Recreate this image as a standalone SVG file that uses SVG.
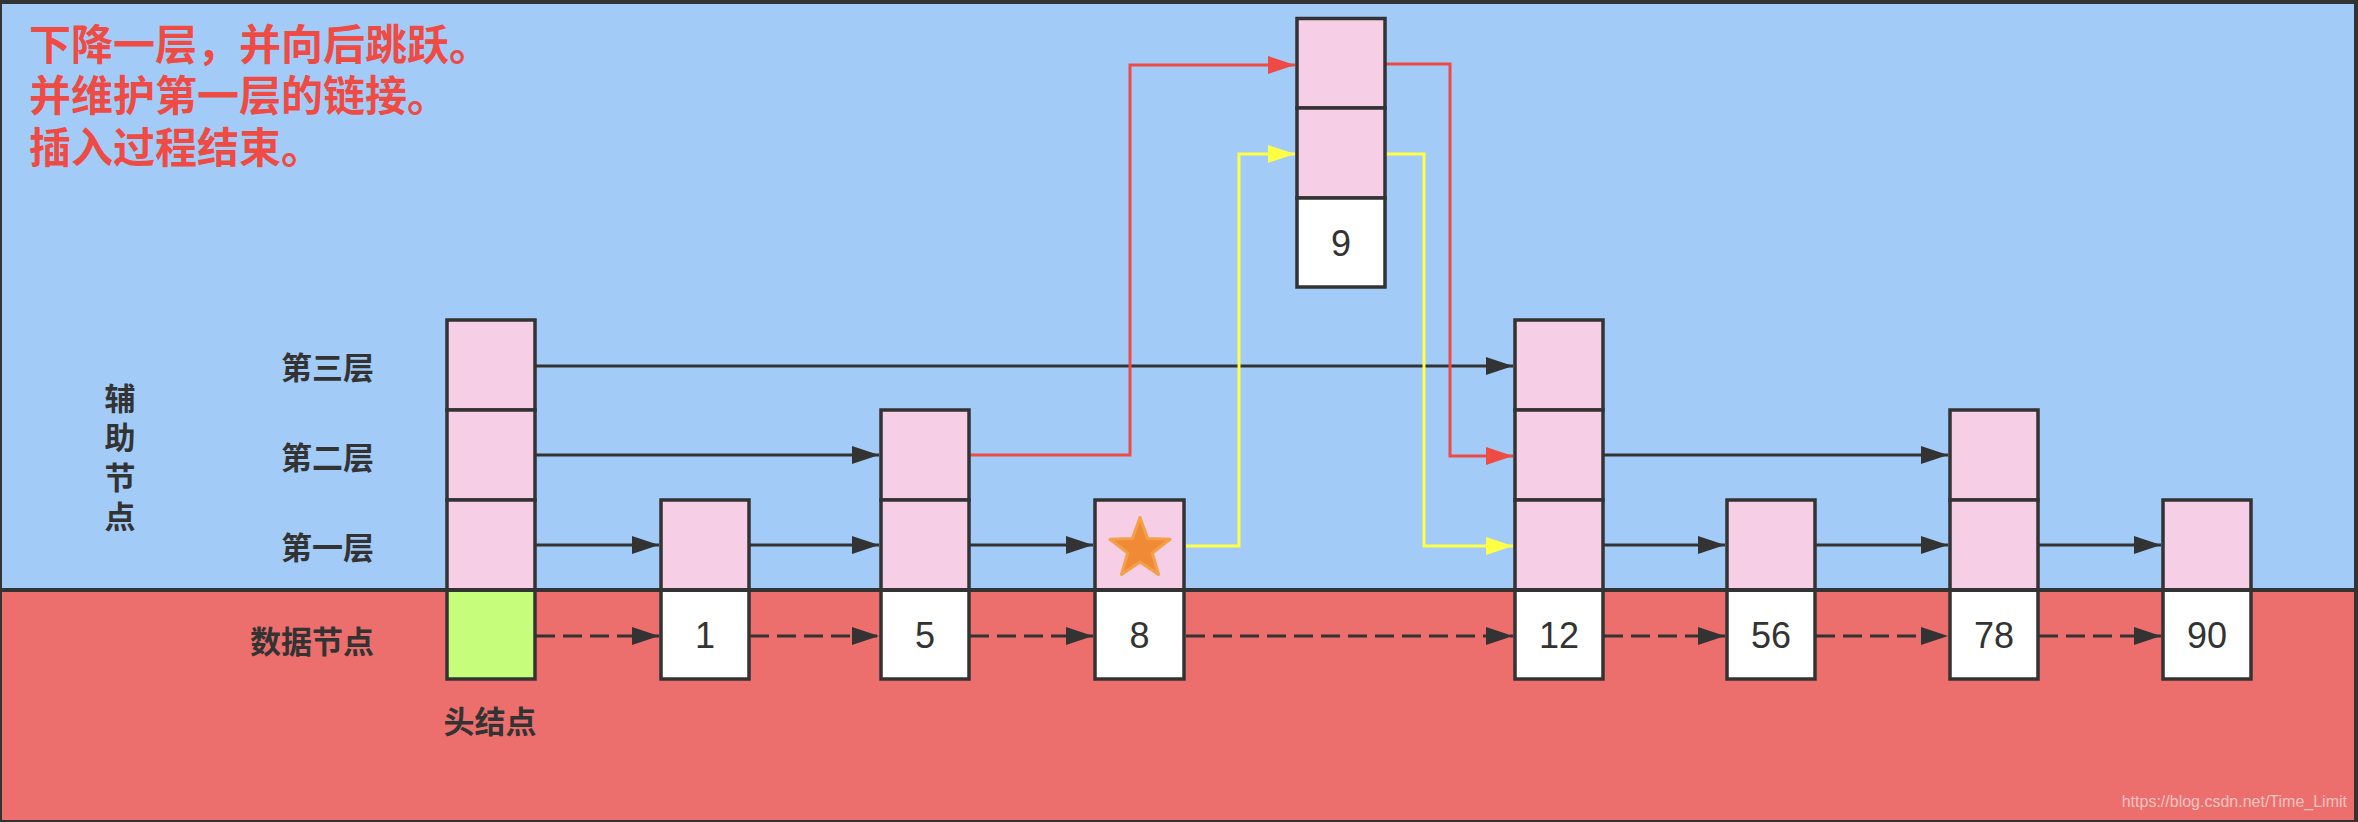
<svg xmlns="http://www.w3.org/2000/svg" width="2358" height="822" viewBox="0 0 2358 822">
<style>
.cell{stroke:#333;stroke-width:3.5;}
.aux{fill:#F6CEE5;}
.data{fill:#FFFFFF;}
.headc{fill:#C6FE7B;}
.num{font-family:"Liberation Sans",Arial,sans-serif;font-size:36px;fill:#333;text-anchor:middle;}
.lbl{font-family:"Noto Sans CJK SC","Noto Sans",sans-serif;font-size:31px;font-weight:bold;fill:#333;}
.title{font-family:"Noto Sans CJK SC","Noto Sans",sans-serif;font-size:42px;font-weight:bold;fill:#EE4B44;}
.blk{stroke:#333;stroke-width:3;fill:none;}
.dash{stroke-dasharray:19 8;}
.red{stroke:#EE4B44;stroke-width:3;fill:none;}
.yel{stroke:#FFFF44;stroke-width:3;fill:none;}
</style>
<defs>
<marker id="ab" markerUnits="userSpaceOnUse" markerWidth="28" markerHeight="18" refX="27" refY="9" orient="auto"><path d="M0,0 L27,9 L0,18 z" fill="#333"/></marker>
<marker id="ar" markerUnits="userSpaceOnUse" markerWidth="28" markerHeight="18" refX="27" refY="9" orient="auto"><path d="M0,0 L27,9 L0,18 z" fill="#EE4B44"/></marker>
<marker id="ay" markerUnits="userSpaceOnUse" markerWidth="28" markerHeight="18" refX="27" refY="9" orient="auto"><path d="M0,0 L27,9 L0,18 z" fill="#FFFF44"/></marker>
</defs>
<g id="background">
<rect x="0" y="0" width="2358" height="822" fill="#333"/>
<rect x="2" y="4" width="2352" height="584" fill="#A3CBF8"/>
<rect x="2" y="592" width="2352" height="228" fill="#ED6F6D"/>
</g>
<g id="title">
<text class="title" x="29" y="60">下降一层，并向后跳跃。</text>
<text class="title" x="29" y="111">并维护第一层的链接。</text>
<text class="title" x="29" y="163">插入过程结束。</text>
</g>
<g id="labels">
<text class="lbl" x="120" y="410" text-anchor="middle">辅</text>
<text class="lbl" x="120" y="449" text-anchor="middle">助</text>
<text class="lbl" x="120" y="489" text-anchor="middle">节</text>
<text class="lbl" x="120" y="528" text-anchor="middle">点</text>
<text class="lbl" x="374" y="379" text-anchor="end">第三层</text>
<text class="lbl" x="374" y="469" text-anchor="end">第二层</text>
<text class="lbl" x="374" y="559" text-anchor="end">第一层</text>
<text class="lbl" x="374" y="653" text-anchor="end">数据节点</text>
<text class="lbl" x="490" y="733" text-anchor="middle">头结点</text>
</g>
<g id="connectors">
<line class="blk" x1="536" y1="366" x2="1513" y2="366" marker-end="url(#ab)"/>
<line class="blk" x1="536" y1="455" x2="879" y2="455" marker-end="url(#ab)"/>
<line class="blk" x1="1604" y1="455" x2="1948" y2="455" marker-end="url(#ab)"/>
<line class="blk" x1="536" y1="545" x2="659" y2="545" marker-end="url(#ab)"/>
<line class="blk" x1="750" y1="545" x2="879" y2="545" marker-end="url(#ab)"/>
<line class="blk" x1="970" y1="545" x2="1093" y2="545" marker-end="url(#ab)"/>
<line class="blk" x1="1604" y1="545" x2="1725" y2="545" marker-end="url(#ab)"/>
<line class="blk" x1="1816" y1="545" x2="1948" y2="545" marker-end="url(#ab)"/>
<line class="blk" x1="2039" y1="545" x2="2161" y2="545" marker-end="url(#ab)"/>
<line class="blk dash" x1="536" y1="636" x2="659" y2="636" marker-end="url(#ab)"/>
<line class="blk dash" x1="750" y1="636" x2="879" y2="636" marker-end="url(#ab)"/>
<line class="blk dash" x1="970" y1="636" x2="1093" y2="636" marker-end="url(#ab)"/>
<line class="blk dash" x1="1186" y1="636" x2="1513" y2="636" marker-end="url(#ab)"/>
<line class="blk dash" x1="1604" y1="636" x2="1725" y2="636" marker-end="url(#ab)"/>
<line class="blk dash" x1="1816" y1="636" x2="1948" y2="636" marker-end="url(#ab)"/>
<line class="blk dash" x1="2039" y1="636" x2="2161" y2="636" marker-end="url(#ab)"/>
<polyline class="red" points="970,455 1130,455 1130,65 1295,65" marker-end="url(#ar)"/>
<polyline class="red" points="1386,64 1450,64 1450,456 1513,456" marker-end="url(#ar)"/>
<polyline class="yel" points="1186,546 1239,546 1239,154 1295,154" marker-end="url(#ay)"/>
<polyline class="yel" points="1386,154 1424,154 1424,546 1513,546" marker-end="url(#ay)"/>
</g>
<g id="node-head">
<rect class="cell aux" x="447" y="320" width="88" height="90"/>
<rect class="cell aux" x="447" y="410" width="88" height="90"/>
<rect class="cell aux" x="447" y="500" width="88" height="90"/>
<rect class="cell headc" x="447" y="590" width="88" height="89"/>
</g>
<g id="node-1">
<rect class="cell aux" x="661" y="500" width="88" height="90"/>
<rect class="cell data" x="661" y="590" width="88" height="89"/>
<text class="num" x="705" y="648">1</text>
</g>
<g id="node-5">
<rect class="cell aux" x="881" y="410" width="88" height="90"/>
<rect class="cell aux" x="881" y="500" width="88" height="90"/>
<rect class="cell data" x="881" y="590" width="88" height="89"/>
<text class="num" x="925" y="648">5</text>
</g>
<g id="node-8">
<rect class="cell aux" x="1095" y="500" width="89" height="90"/>
<rect class="cell data" x="1095" y="590" width="89" height="89"/>
<polygon points="1140,517.5 1147.6,538.5 1170,539.3 1152.3,553 1158.5,574.5 1140,562 1121.5,574.5 1127.7,553 1110,539.3 1132.4,538.5" fill="#F08A36" stroke="#F4A048" stroke-width="3" stroke-linejoin="round"/>
<text class="num" x="1139.5" y="648">8</text>
</g>
<g id="node-9">
<rect class="cell aux" x="1297" y="18.5" width="88" height="89.5"/>
<rect class="cell aux" x="1297" y="108" width="88" height="90"/>
<rect class="cell data" x="1297" y="198" width="88" height="89"/>
<text class="num" x="1341" y="256">9</text>
</g>
<g id="node-12">
<rect class="cell aux" x="1515" y="320" width="88" height="90"/>
<rect class="cell aux" x="1515" y="410" width="88" height="90"/>
<rect class="cell aux" x="1515" y="500" width="88" height="90"/>
<rect class="cell data" x="1515" y="590" width="88" height="89"/>
<text class="num" x="1559" y="648">12</text>
</g>
<g id="node-56">
<rect class="cell aux" x="1727" y="500" width="88" height="90"/>
<rect class="cell data" x="1727" y="590" width="88" height="89"/>
<text class="num" x="1771" y="648">56</text>
</g>
<g id="node-78">
<rect class="cell aux" x="1950" y="410" width="88" height="90"/>
<rect class="cell aux" x="1950" y="500" width="88" height="90"/>
<rect class="cell data" x="1950" y="590" width="88" height="89"/>
<text class="num" x="1994" y="648">78</text>
</g>
<g id="node-90">
<rect class="cell aux" x="2163" y="500" width="88" height="90"/>
<rect class="cell data" x="2163" y="590" width="88" height="89"/>
<text class="num" x="2207" y="648">90</text>
</g>
<g id="separator">
<line x1="2" y1="590" x2="2354" y2="590" stroke="#333" stroke-width="4"/>
</g>
<text x="2347" y="807" font-family="'Liberation Sans',Arial,sans-serif" font-size="16" fill="#F6C4C2" text-anchor="end">https://blog.csdn.net/Time_Limit</text>
</svg>
